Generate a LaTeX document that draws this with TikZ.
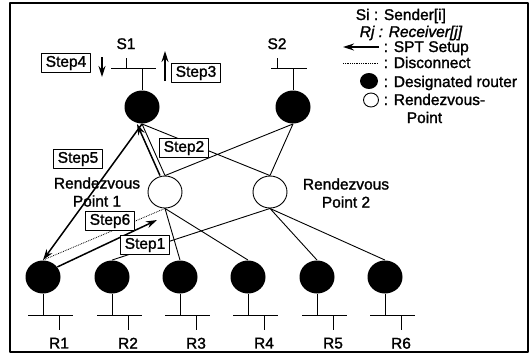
\documentclass[tikz,border=0pt]{standalone}
\usepackage{fontspec}
\setmainfont[FakeBold=1.5,AutoFakeBold=1.5]{Liberation Sans}
\usetikzlibrary{shapes.geometric,arrows.meta}
\tikzset{
  dr/.style={ellipse,fill=black,minimum width=35pt,minimum height=33pt,inner sep=0pt},
  rp/.style={ellipse,draw,fill=white,minimum width=34pt,minimum height=32pt,inner sep=0pt},
  stepbox/.style={draw,fill=white,inner xsep=4.5pt,inner ysep=2pt,minimum height=19pt},
  spt/.style={-{Stealth[length=11pt,width=7pt]},line width=1.5pt},
  dis/.style={densely dotted,line width=0.8pt}
}
\begin{document}
\begin{tikzpicture}[x=1pt,y=-1pt,font=\fontsize{15.5}{18}\selectfont\bfseries,line width=0.9pt,line join=round]
	\useasboundingbox (0,0) rectangle (532,357);
	\draw[line width=1.2pt] (10,3) rectangle (528,352);
	% senders
	\node[dr] (s1) at (142,107) {};
	\node[dr] (s2) at (293,107) {};
	\draw (111,68) -- (156,68) (126,68) -- (126,58) node[above=5pt] (ls1) {S1} (142,68) -- (s1);
	\draw (271,68) -- (307,68) (277,68) -- (277,58) node[above=5pt] (ls2) {S2} (293,68) -- (s2);
	% receivers
	\foreach \i/\x in {1/43,2/112,3/180,4/248,5/317,6/385}
	{\node[dr] (r\i) at (\x,277) {};
		\draw (r\i) -- (\x,315) (\x-15,315) -- (\x+30,315) (\x+16,315) -- (\x+16,330) node[below=4pt] (lr\i) {R\i};}
	% rendezvous points
	\node[rp] (rp1) at (165,192) {};
	\node[rp] (rp2) at (270,192) {};
	\node[align=center] (lrp1) at (97,192) {Rendezvous\\Point 1};
	\node[align=center] (lrp2) at (346,193) {Rendezvous\\Point 2};
	% tree links
	\draw (s1.south) -- (rp1.north) (s1.south) -- (rp2.north) (s2.south) -- (rp1.north) (s2.south) -- (rp2.north);
	\draw (rp1.south) -- (r3.north) (rp1.south) -- (r4.north);
	\draw (rp2.south) -- (r2.north) (rp2.south) -- (r5.north) (rp2.south) -- (r6.north);
	% steps
	\coordinate (t1) at (157,220);
	\draw[dis] (rp1.south) -- (r1.north);
	\draw[spt] (r1.35) -- (t1);
	\draw[spt,transform canvas={xshift=-5pt}] (rp1.north) -- (s1.south);
	\draw[spt] (s1.south) -- (r1.north);
	\coordinate (a4) at (102,57); \coordinate (b4) at (102,77);
	\coordinate (a3) at (165,81); \coordinate (b3) at (165,51);
	\draw[spt] (a4) -- (b4);
	\draw[spt] (a3) -- (b3);
	\node[stepbox] (st4) at (66,63) {Step4};
	\node[stepbox] (st3) at (196,73) {Step3};
	\node[stepbox] (st5) at (78,159) {Step5};
	\node[stepbox] (st2) at (184,148) {Step2};
	\node[stepbox] (st6) at (110,221) {Step6};
	\node[stepbox] (st1) at (145,245) {Step1};
	% legend
	\node[anchor=base west] (k1) at (352,20) {Si : Sender[i]};
	\node[anchor=base west] (k2) at (356,37) {\textit{Rj : Receiver[j]}};
	\coordinate (ka) at (379,47); \coordinate (kb) at (343,47);
	\draw[spt] (ka) -- (kb);
	\node[anchor=base west] (k3) at (380,52) {: SPT Setup};
	\coordinate (kc) at (343,63); \coordinate (kd) at (378,63);
	\draw[dis] (kc) -- (kd);
	\node[anchor=base west] (k4) at (380,68) {: Disconnect};
	\node[dr,minimum width=18pt,minimum height=16pt] (kdr) at (369,81) {};
	\node[anchor=base west] (k5) at (380,87) {: Designated router};
	\node[rp,minimum width=15pt,minimum height=14pt] (krp) at (371,100) {};
	\node[anchor=base west] (k6) at (380,105) {: Rendezvous-};
	\node[anchor=base west] (k7) at (403,123) {Point};
\end{tikzpicture}
\end{document}
